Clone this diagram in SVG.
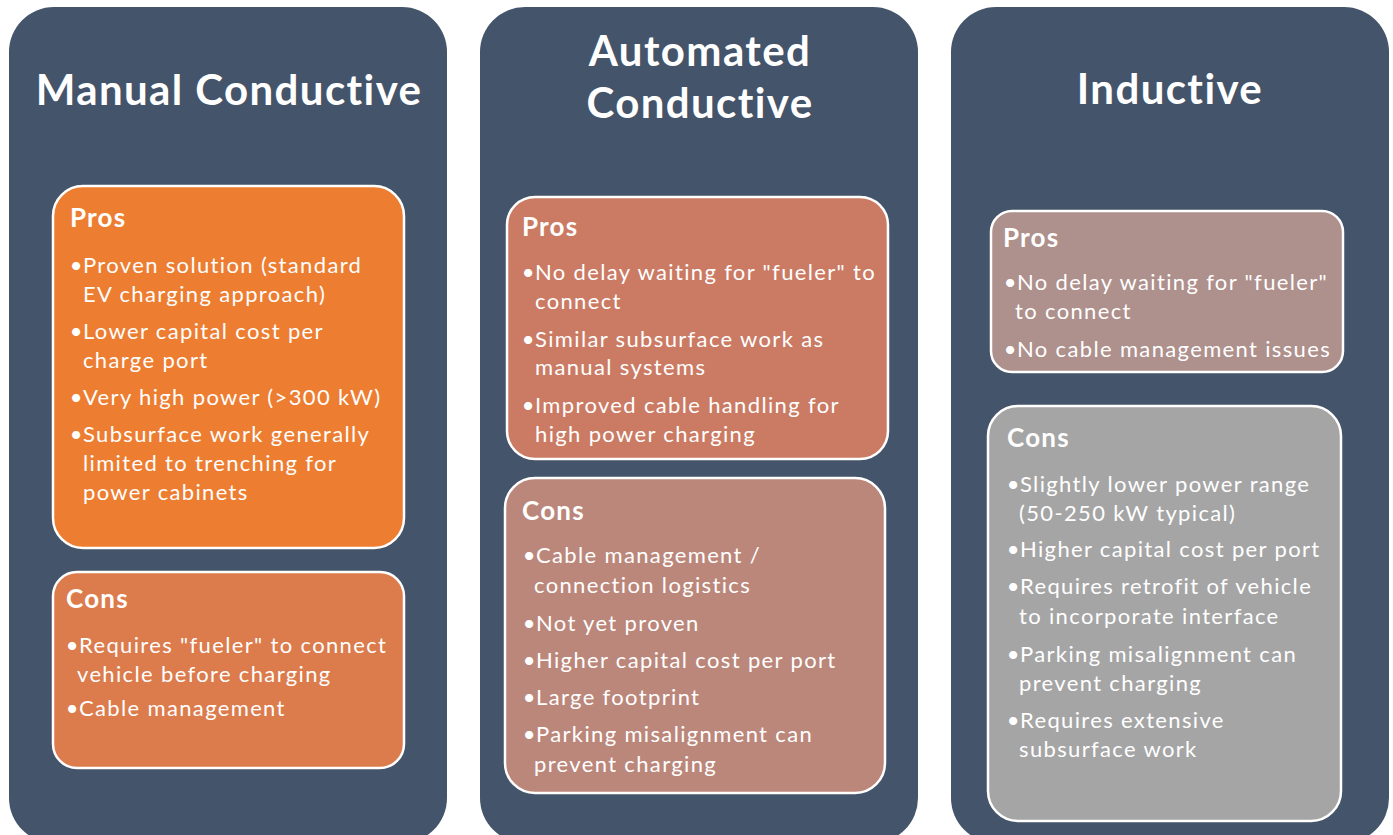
<svg xmlns="http://www.w3.org/2000/svg" width="1393" height="835" viewBox="0 0 1393 835">
  <style>
    .panel { fill: #44546A; }
    .box { stroke: #FFFFFF; stroke-width: 2.5; }
    .title { font-family: Lato, "Liberation Sans", sans-serif; font-weight: bold; font-size: 42px; letter-spacing: 1.4px; fill: #FFFFFF; text-anchor: middle; }
    .head { font-family: Lato, "Liberation Sans", sans-serif; font-weight: bold; font-size: 26px; letter-spacing: 1.2px; fill: #FFFFFF; }
    .item { font-family: Lato, "Liberation Sans", sans-serif; font-size: 22px; letter-spacing: 1.35px; fill: #FFFFFF; }
    .dot { font-family: Lato, "Liberation Sans", sans-serif; font-size: 22px; fill: #FFFFFF; text-anchor: end; }
  </style>
  <rect width="1393" height="835" fill="#FFFFFF"/>

  <!-- Column 1: manual conductive charging -->
  <g id="manual-conductive">
    <rect class="panel" x="9" y="7" width="438" height="836" rx="45"/>
    <text class="title" x="229" y="105">Manual Conductive</text>
    <g id="manual-pros">
      <rect class="box" x="53" y="186" width="351" height="362" rx="30" fill="#ED7D31"/>
      <text class="head" x="70" y="227">Pros</text>
      <text class="dot" x="82.5" y="273">•</text>
      <text class="item" x="83" y="273">Proven solution (standard</text>
      <text class="item" x="83" y="302">EV charging approach)</text>
      <text class="dot" x="82.5" y="339">•</text>
      <text class="item" x="83" y="339">Lower capital cost per</text>
      <text class="item" x="83" y="368">charge port</text>
      <text class="dot" x="82.5" y="405">•</text>
      <text class="item" x="83" y="405">Very high power (&gt;300 kW)</text>
      <text class="dot" x="82.5" y="442">•</text>
      <text class="item" x="83" y="442">Subsurface work generally</text>
      <text class="item" x="83" y="471">limited to trenching for</text>
      <text class="item" x="83" y="500">power cabinets</text>
    </g>
    <g id="manual-cons">
      <rect class="box" x="53" y="572" width="351" height="196" rx="24" fill="#DC7B4C"/>
      <text class="head" x="66" y="608">Cons</text>
      <text class="dot" x="78.5" y="653">•</text>
      <text class="item" x="79" y="653">Requires "fueler" to connect</text>
      <text class="item" x="77" y="682">vehicle before charging</text>
      <text class="dot" x="78.5" y="716">•</text>
      <text class="item" x="79" y="716">Cable management</text>
    </g>
  </g>

  <!-- Column 2: automated conductive charging -->
  <g id="automated-conductive">
    <rect class="panel" x="480" y="7" width="438" height="836" rx="45"/>
    <text class="title" x="700" y="66">Automated</text>
    <text class="title" x="700" y="118">Conductive</text>
    <g id="automated-pros">
      <rect class="box" x="507" y="197" width="381" height="262" rx="28" fill="#CB7B64"/>
      <text class="head" x="522" y="236">Pros</text>
      <text class="dot" x="534.5" y="280">•</text>
      <text class="item" x="535" y="280">No delay waiting for "fueler" to</text>
      <text class="item" x="535" y="309">connect</text>
      <text class="dot" x="534.5" y="347">•</text>
      <text class="item" x="535" y="347">Similar subsurface work as</text>
      <text class="item" x="535" y="375">manual systems</text>
      <text class="dot" x="534.5" y="413">•</text>
      <text class="item" x="535" y="413">Improved cable handling for</text>
      <text class="item" x="535" y="442">high power charging</text>
    </g>
    <g id="automated-cons">
      <rect class="box" x="505" y="478" width="380" height="315" rx="30" fill="#BC877B"/>
      <text class="head" x="522" y="520">Cons</text>
      <text class="dot" x="535.5" y="563">•</text>
      <text class="item" x="536" y="563">Cable management /</text>
      <text class="item" x="534" y="593">connection logistics</text>
      <text class="dot" x="535.5" y="631">•</text>
      <text class="item" x="536" y="631">Not yet proven</text>
      <text class="dot" x="535.5" y="668">•</text>
      <text class="item" x="536" y="668">Higher capital cost per port</text>
      <text class="dot" x="535.5" y="705">•</text>
      <text class="item" x="536" y="705">Large footprint</text>
      <text class="dot" x="535.5" y="742">•</text>
      <text class="item" x="536" y="742">Parking misalignment can</text>
      <text class="item" x="534" y="772">prevent charging</text>
    </g>
  </g>

  <!-- Column 3: inductive charging -->
  <g id="inductive">
    <rect class="panel" x="951" y="7" width="438" height="836" rx="45"/>
    <text class="title" x="1170" y="104">Inductive</text>
    <g id="inductive-pros">
      <rect class="box" x="991" y="211" width="352" height="161" rx="21" fill="#AE908C"/>
      <text class="head" x="1003" y="247">Pros</text>
      <text class="dot" x="1016.5" y="290">•</text>
      <text class="item" x="1017" y="290">No delay waiting for "fueler"</text>
      <text class="item" x="1015" y="319">to connect</text>
      <text class="dot" x="1016.5" y="357">•</text>
      <text class="item" x="1017" y="357">No cable management issues</text>
    </g>
    <g id="inductive-cons">
      <rect class="box" x="988" y="406" width="353" height="415" rx="30" fill="#A5A5A5"/>
      <text class="head" x="1007" y="447">Cons</text>
      <text class="dot" x="1019.5" y="492">•</text>
      <text class="item" x="1020" y="492">Slightly lower power range</text>
      <text class="item" x="1019" y="521">(50-250 kW typical)</text>
      <text class="dot" x="1019.5" y="557">•</text>
      <text class="item" x="1020" y="557">Higher capital cost per port</text>
      <text class="dot" x="1019.5" y="594">•</text>
      <text class="item" x="1020" y="594">Requires retrofit of vehicle</text>
      <text class="item" x="1019" y="624">to incorporate interface</text>
      <text class="dot" x="1019.5" y="662">•</text>
      <text class="item" x="1020" y="662">Parking misalignment can</text>
      <text class="item" x="1019" y="691">prevent charging</text>
      <text class="dot" x="1019.5" y="728">•</text>
      <text class="item" x="1020" y="728">Requires extensive</text>
      <text class="item" x="1019" y="757">subsurface work</text>
    </g>
  </g>
</svg>
